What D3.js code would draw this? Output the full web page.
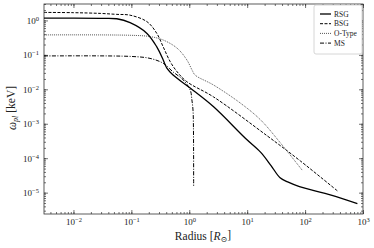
<!DOCTYPE html>
<html>
<head>
<meta charset="utf-8">
<script src="https://cdn.jsdelivr.net/npm/d3@7"></script>
<style>
body { margin: 0; background: #fff; }
text { font-family: "Liberation Serif", "DejaVu Serif", serif; fill: #222; }
</style>
</head>
<body>
<script>
// Data (radius in R_sun, omega_pl in keV)
var rsgR = [0.0031, 0.029, 0.056, 0.095, 0.186, 0.275, 0.355, 0.41, 0.525, 1.05, 2.63, 9.3, 17, 26, 37, 50, 80, 282, 800]
var rsgW = [1.16, 1.15, 1.12, 0.86, 0.42, 0.17, 0.071, 0.041, 0.026, 0.0107, 0.0031, 3.8e-4, 1.5e-4, 6.0e-5, 2.7e-5, 2.05e-5, 1.5e-5, 8.5e-6, 4.8e-6]

var bsgR = [0.0031, 0.01, 0.029, 0.056, 0.095, 0.186, 0.275, 0.355, 0.47, 0.62, 0.91, 2.63, 22.4, 83, 363]
var bsgW = [1.71, 1.68, 1.6, 1.5, 1.42, 0.92, 0.42, 0.17, 0.063, 0.032, 0.0166, 0.006, 4.4e-4, 8.3e-5, 1.12e-5]

var otR = [0.0031, 0.1, 0.21, 0.355, 0.62, 0.91, 1.12, 1.26, 2.63, 7.6, 17, 38, 89]
var otW = [0.38, 0.37, 0.34, 0.27, 0.155, 0.071, 0.036, 0.026, 0.0133, 0.004, 0.0013, 2.7e-4, 4.5e-5]

var msR = [0.0031, 0.1, 0.21, 0.355, 0.525, 0.79, 1.04, 1.11, 1.16, 1.18, 1.19]
var msW = [0.093, 0.09, 0.079, 0.057, 0.032, 0.0186, 0.0095, 0.0049, 0.0025, 8e-4, 1.5e-5]

var names = ['RSG', 'BSG', 'O-Type', 'MS']
var xMajor = [1e-2, 1e-1, 1e0, 1e1, 1e2, 1e3]
var yMajor = [1e-5, 1e-4, 1e-3, 1e-2, 1e-1, 1e0]

var W = 374, H = 248
var pL = 44, pR = 363, pT = 4, pB = 214

var svg = d3.select('body').append('svg').attr('width', W).attr('height', H)

var x = d3.scaleLog().domain([0.0031, 1000]).range([pL, pR])
var y = d3.scaleLog().domain([2.4e-6, 3]).range([pB, pT])

var xMinor = x.ticks().filter(function (v) { return v >= x.domain()[0] && v <= 1000 })
var yMinor = y.ticks().filter(function (v) { return v >= y.domain()[0] && v <= 3 })

function sup(sel) {
  sel.each(function (d) {
    var t = d3.select(this).text('')
    var e = Math.round(Math.log10(d))
    t.append('tspan').text('10')
    t.append('tspan').attr('dy', '-0.45em').attr('font-size', '0.72em')
      .text(e < 0 ? '\u2212' + (-e) : e)
  })
}

// minor ticks (all sides)
svg.append('g').attr('transform', 'translate(0,' + pB + ')')
  .call(d3.axisBottom(x).tickValues(xMinor).tickSize(-2).tickFormat(''))
svg.append('g').attr('transform', 'translate(0,' + pT + ')')
  .call(d3.axisTop(x).tickValues(xMinor).tickSize(-2).tickFormat(''))
svg.append('g').attr('transform', 'translate(' + pL + ',0)')
  .call(d3.axisLeft(y).tickValues(yMinor).tickSize(-2).tickFormat(''))
svg.append('g').attr('transform', 'translate(' + pR + ',0)')
  .call(d3.axisRight(y).tickValues(yMinor).tickSize(-2).tickFormat(''))

// major ticks
var gx = svg.append('g').attr('transform', 'translate(0,' + pB + ')')
  .call(d3.axisBottom(x).tickValues(xMajor).tickSize(-4).tickPadding(5))
gx.selectAll('text').attr('font-size', 9).call(sup)
svg.append('g').attr('transform', 'translate(0,' + pT + ')')
  .call(d3.axisTop(x).tickValues(xMajor).tickSize(-4).tickFormat(''))
var gy = svg.append('g').attr('transform', 'translate(' + pL + ',0)')
  .call(d3.axisLeft(y).tickValues(yMajor).tickSize(-4).tickPadding(5))
gy.selectAll('text').attr('font-size', 9).call(sup)
svg.append('g').attr('transform', 'translate(' + pR + ',0)')
  .call(d3.axisRight(y).tickValues(yMajor).tickSize(-4).tickFormat(''))

svg.selectAll('.domain').remove()
svg.selectAll('.tick line').attr('stroke', '#333').attr('stroke-width', 0.7)

svg.append('rect').attr('x', pL).attr('y', pT)
  .attr('width', pR - pL).attr('height', pB - pT)
  .attr('fill', 'none').attr('stroke', '#333').attr('stroke-width', 0.8)

// curves
var series = [
  {r: rsgR, w: rsgW, dash: null, width: 1.3, color: '#000'},
  {r: bsgR, w: bsgW, dash: '3,1.5', width: 1, color: '#000'},
  {r: otR, w: otW, dash: '1,1', width: 0.9, color: '#444'},
  {r: msR, w: msW, dash: '4,1.5,1,1.5', width: 1, color: '#000'}
]
var line = d3.line()
  .x(function (d) { return x(d[0]) })
  .y(function (d) { return y(d[1]) })
  .curve(d3.curveCatmullRom.alpha(0.5))

svg.append('defs').append('clipPath').attr('id', 'clip')
  .append('rect').attr('x', pL).attr('y', pT)
  .attr('width', pR - pL).attr('height', pB - pT)

series.forEach(function (s) {
  var pts = s.r.map(function (v, i) { return [v, s.w[i]] })
  svg.append('path').datum(pts)
    .attr('clip-path', 'url(#clip)')
    .attr('d', line)
    .attr('fill', 'none')
    .attr('stroke', s.color)
    .attr('stroke-width', s.width)
    .attr('stroke-dasharray', s.dash)
})

// legend
var lg = svg.append('g')
lg.append('rect').attr('x', 314).attr('y', 5).attr('width', 48).attr('height', 49)
  .attr('rx', 2).attr('fill', '#fff').attr('stroke', '#ccc').attr('stroke-width', 0.8)
names.forEach(function (n, i) {
  var yy = 14 + i * 9.7
  lg.append('line').attr('x1', 320).attr('x2', 331).attr('y1', yy).attr('y2', yy)
    .attr('stroke', series[i].color).attr('stroke-width', series[i].width)
    .attr('stroke-dasharray', series[i].dash)
  lg.append('text').attr('x', 334).attr('y', yy + 2.5).attr('font-size', 7.5).text(n)
})

// axis labels
var xl = svg.append('text').attr('x', 203).attr('y', 240).attr('text-anchor', 'middle').attr('font-size', 11.5)
xl.append('tspan').text('Radius [')
xl.append('tspan').attr('font-style', 'italic').text('R')
xl.append('tspan').attr('dy', '0.3em').attr('font-size', '0.7em').text('\u2299')
xl.append('tspan').attr('dy', '-0.3em').text(']')

var yl = svg.append('text').attr('transform', 'translate(16,108) rotate(-90)')
  .attr('text-anchor', 'middle').attr('font-size', 11.5)
yl.append('tspan').attr('font-style', 'italic').text('\u03c9')
yl.append('tspan').attr('dy', '0.3em').attr('font-size', '0.7em').attr('font-style', 'italic').text('pl')
yl.append('tspan').attr('dy', '-0.3em').text(' [keV]')
</script>
</body>
</html>
